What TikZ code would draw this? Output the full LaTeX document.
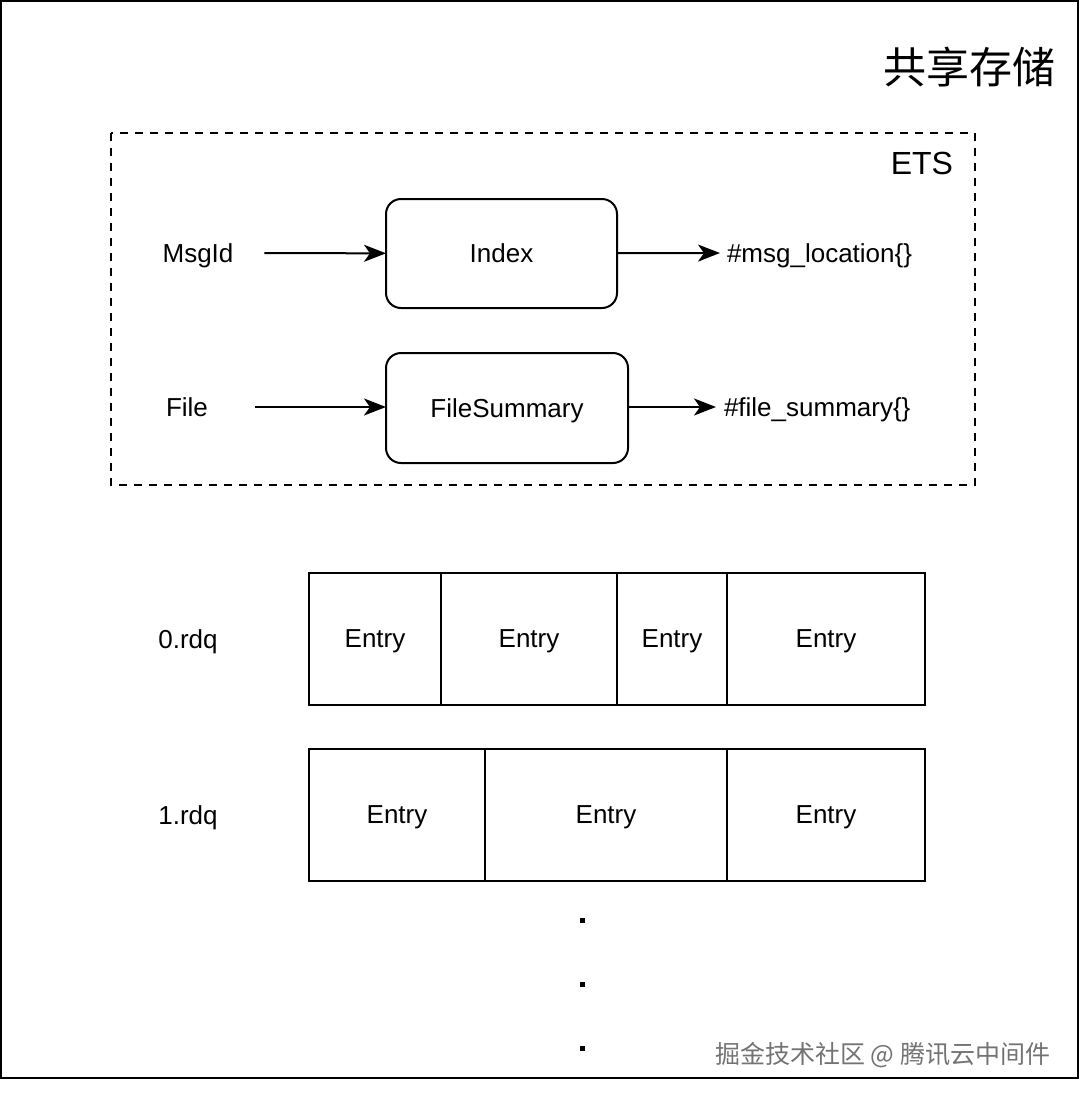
\documentclass[tikz,border=0pt]{standalone}
\usepackage{fontspec}
\setmainfont{Liberation Sans}
\newfontfamily\cjk{Noto Sans CJK SC}
\usetikzlibrary{arrows.meta}
\begin{document}
\begin{tikzpicture}[x=1pt,y=-1pt,inner sep=0pt,outer sep=0pt,line width=2pt,
lbl/.style={font=\fontsize{26}{30}\selectfont,text depth=0pt},
keybox/.style={draw,rounded corners=15pt,lbl},
cell/.style={draw,rectangle,minimum height=132pt,lbl},
arr/.style={-{Stealth[length=22pt,width=17pt,inset=6pt]}},
dot/.style={fill,rectangle,minimum size=5pt}]
\useasboundingbox (0,0) rectangle (1080,1098);
\draw[line width=2.5pt] (1,1) rectangle (1078,1078);
\draw (1055,67) node[anchor=east,font=\cjk\fontsize{43}{48}\selectfont] (title) {共享存储};

% ETS
\draw[dash pattern=on 8pt off 7pt] (111,133) rectangle (975,485);
\draw (953,163) node[anchor=east,font=\fontsize{32}{36}\selectfont,text depth=0pt] (ets) {ETS};
\draw (501.5,253.5) node[keybox,minimum width=231pt,minimum height=109pt] (index) {Index};
\draw (507,408) node[keybox,minimum width=242pt,minimum height=110pt] (fsum) {FileSummary};
\draw (198,253) node[lbl] (msgid) {MsgId};
\draw (187,407) node[lbl] (file) {File};
\draw (727,253) node[lbl,anchor=west] (loc) {\#msg\_location\{\}};
\draw (724,407) node[lbl,anchor=west] (fsout) {\#file\_summary\{\}};

\draw[arr,shorten <=31pt] (msgid) -- (index);
\draw[arr,shorten >=7pt] (index) -- (loc.west);
\draw[arr,shorten <=47pt] (file) -- (fsum.west|-file);
\draw[arr,shorten >=8pt] (fsum.east|-fsout) -- (fsout.west);

% rdq files
\draw (188,639) node[lbl] (rdq0) {0.rdq};
\draw (375,639) node[cell,minimum width=132pt] (e00) {Entry};
\draw (529,639) node[cell,minimum width=176pt] (e01) {Entry};
\draw (672,639) node[cell,minimum width=110pt] (e02) {Entry};
\draw (826,639) node[cell,minimum width=198pt] (e03) {Entry};

\draw (188,815) node[lbl] (rdq1) {1.rdq};
\draw (397,815) node[cell,minimum width=176pt] (e10) {Entry};
\draw (606,815) node[cell,minimum width=242pt] (e11) {Entry};
\draw (826,815) node[cell,minimum width=198pt] (e12) {Entry};

\draw (582,920) node[dot] (d1) {};
\draw (582,984) node[dot] (d2) {};
\draw (582,1048) node[dot] (d3) {};

\draw (1050,1055) node[anchor=east,text=black!55,font=\cjk\fontsize{25}{28}\selectfont] (wm) {掘金技术社区 @ 腾讯云中间件};
\end{tikzpicture}
\end{document}
